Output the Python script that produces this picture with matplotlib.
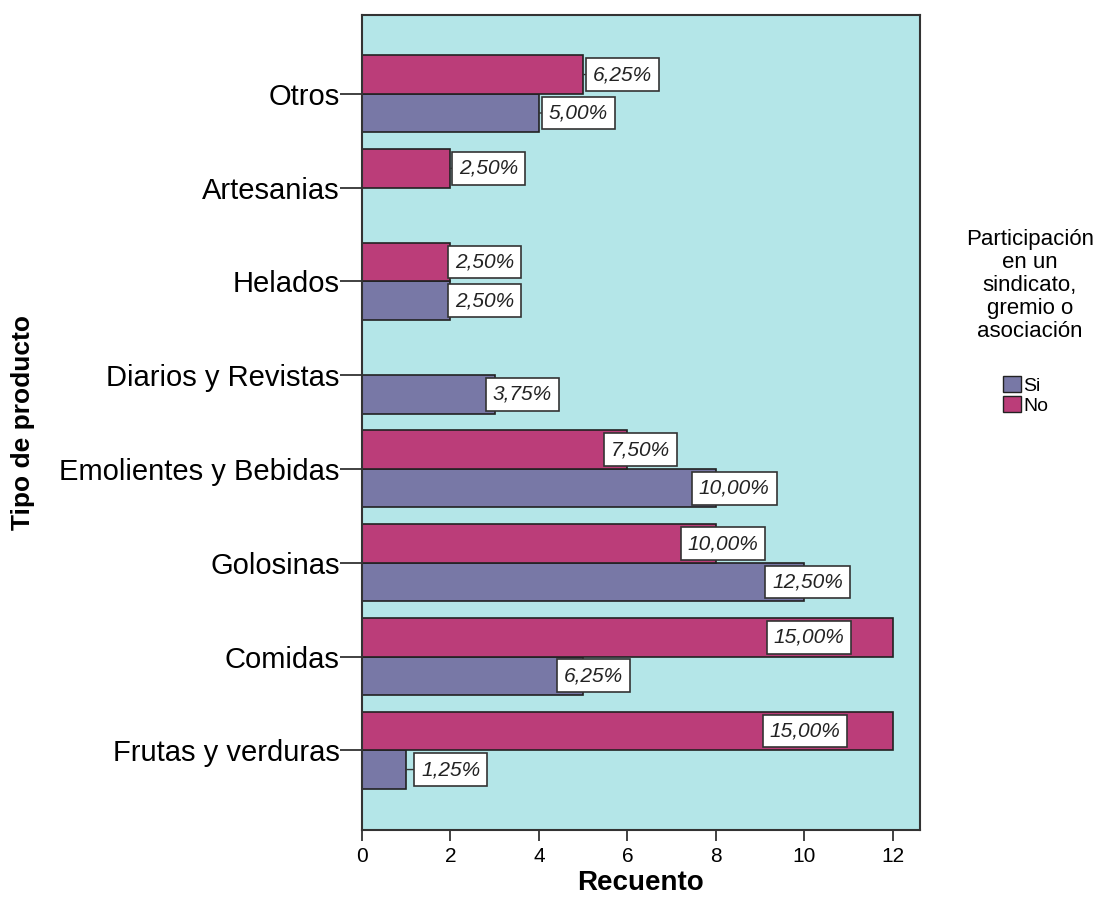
import matplotlib
matplotlib.use('Agg')
import matplotlib.pyplot as plt
from matplotlib.patches import Patch

plt.rcParams['font.family'] = ['Liberation Sans', 'DejaVu Sans']

# data, listed top to bottom as shown in the chart
categories = ['Otros', 'Artesanias', 'Helados', 'Diarios y Revistas',
              'Emolientes y Bebidas', 'Golosinas', 'Comidas', 'Frutas y verduras']
count_si = [4, 0, 2, 3, 8, 10, 5, 1]
count_no = [5, 2, 2, 0, 6, 8, 12, 12]
pct_si = ['5,00%', '', '2,50%', '3,75%', '10,00%', '12,50%', '6,25%', '1,25%']
pct_no = ['6,25%', '2,50%', '2,50%', '', '7,50%', '10,00%', '15,00%', '15,00%']

# left edge of each label box (SPSS shifts them to avoid overlaps)
label_x_si = [4.09, None, 1.97, 2.82, 7.48, 9.13, 4.43, 1.2]
label_x_no = [5.08, 2.06, 1.97, None, 5.49, 7.23, 9.17, 9.08]

color_si = '#7878A6'
color_no = '#BB3D79'
bg = '#B4E6E8'

fig = plt.figure(figsize=(11.17, 9.19), dpi=100)
ax = fig.add_axes([0.324, 0.0968, 0.4996, 0.8869])
ax.set_facecolor(bg)

n = len(categories)
ypos = [n - 1 - i for i in range(n)]
h = 0.41

ax.barh([y - h / 2 for y in ypos], count_si, height=h, color=color_si,
        edgecolor='#222222', linewidth=1.2, zorder=2)
ax.barh([y + h / 2 for y in ypos], count_no, height=h, color=color_no,
        edgecolor='#222222', linewidth=1.2, zorder=2)

pad_units = 6 / 44.25


def add_label(value, text, left, y):
    if not text:
        return
    tx = left + pad_units
    props = None
    if left >= value:
        props = dict(arrowstyle='-', color='#333333', lw=1.0, shrinkA=0, shrinkB=0)
    ax.annotate(text, xy=(value, y), xytext=(tx, y), ha='left', va='center',
                fontsize=15, style='italic', color='#222222', zorder=4,
                bbox=dict(boxstyle='square,pad=0.33', fc='white', ec='#333333', lw=1.2),
                arrowprops=props)


for i in range(n):
    add_label(count_si[i], pct_si[i], label_x_si[i] if label_x_si[i] is not None else 0, ypos[i] - h / 2)
    add_label(count_no[i], pct_no[i], label_x_no[i] if label_x_no[i] is not None else 0, ypos[i] + h / 2)

ax.set_xlim(0, 12.61)
ax.set_ylim(-0.85, 7.84)
ax.set_xticks(range(0, 13, 2))
ax.set_yticks(ypos)
ax.set_yticklabels(categories, fontsize=21)
ax.tick_params(axis='y', length=16, width=1.3, color='#333333', pad=0)
ax.tick_params(axis='x', length=8, width=1.3, color='#333333', labelsize=15, pad=4)
for s in ax.spines.values():
    s.set_color('#333333')
    s.set_linewidth(1.5)

ax.set_xlabel('Recuento', fontsize=20, fontweight='bold', labelpad=3)
ax.set_ylabel('Tipo de producto', fontsize=19, fontweight='bold')
ax.yaxis.set_label_coords(-0.585, 0.5)

# legend: title as plain text, entries below it
fig.text(0.922, 1 - 229 / 919, 'Participación\nen un\nsindicato,\ngremio o\nasociación',
         ha='center', va='top', fontsize=16, linespacing=1.12, multialignment='center')
handles = [Patch(facecolor=color_si, edgecolor='#222222', label='Si'),
           Patch(facecolor=color_no, edgecolor='#222222', label='No')]
fig.legend(handles=handles, loc='upper left', bbox_to_anchor=(1003 / 1117, 1 - 376 / 919),
           frameon=False, fontsize=14, handlelength=0.9, handleheight=0.9,
           handletextpad=0.15, labelspacing=0.05, borderpad=0, borderaxespad=0)

fig.savefig('out.png', dpi=100)
